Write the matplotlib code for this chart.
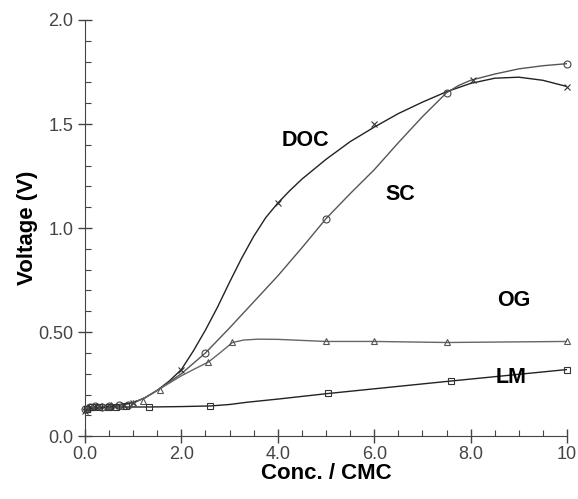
import matplotlib
matplotlib.use("Agg")
import matplotlib.pyplot as plt
import numpy as np

plt.rcParams['font.family'] = ['Liberation Sans', 'DejaVu Sans']

# measured points (markers)
doc_x = [0.0, 0.1, 0.2, 0.3, 0.45, 0.6, 0.8, 1.0, 2.0, 4.0, 6.0, 8.05, 10.0]
doc_y = [0.12, 0.14, 0.14, 0.145, 0.14, 0.145, 0.15, 0.16, 0.32, 1.12, 1.50, 1.71, 1.68]
sc_x = [0.0, 0.1, 0.2, 0.35, 0.5, 0.7, 0.9, 2.5, 5.0, 7.5, 10.0]
sc_y = [0.13, 0.14, 0.145, 0.14, 0.145, 0.15, 0.15, 0.40, 1.045, 1.65, 1.79]
og_x = [0.05, 0.15, 0.25, 0.4, 0.55, 0.75, 1.0, 1.2, 1.55, 2.56, 3.06, 5.0, 6.0, 7.5, 10.0]
og_y = [0.13, 0.14, 0.145, 0.14, 0.15, 0.145, 0.16, 0.17, 0.22, 0.356, 0.45, 0.455, 0.455, 0.45, 0.455]
lm_x = [0.05, 0.15, 0.3, 0.5, 0.65, 0.85, 1.33, 2.6, 5.05, 7.6, 10.0]
lm_y = [0.13, 0.14, 0.14, 0.14, 0.14, 0.145, 0.14, 0.145, 0.205, 0.265, 0.32]

# smooth curves
doc_cx = [0.0, 0.5, 1.0, 1.25, 1.5, 1.75, 2.0, 2.25, 2.5, 2.75, 3.0, 3.25, 3.5, 3.75,
          4.0, 4.25, 4.5, 5.0, 5.5, 6.0, 6.5, 7.0, 7.5, 8.0, 8.5, 9.0, 9.5, 10.0]
doc_cy = [0.12, 0.14, 0.16, 0.185, 0.22, 0.265, 0.32, 0.41, 0.51, 0.62, 0.74, 0.855, 0.96, 1.05,
          1.12, 1.18, 1.235, 1.33, 1.415, 1.485, 1.55, 1.605, 1.655, 1.695, 1.72, 1.725, 1.71, 1.68]
sc_cx = [0.0, 0.5, 1.0, 1.25, 1.5, 1.75, 2.0, 2.25, 2.5, 3.0, 3.5, 4.0, 4.5, 5.0, 5.5, 6.0,
         6.5, 7.0, 7.5, 7.75, 8.0, 8.5, 9.0, 9.5, 10.0]
sc_cy = [0.13, 0.145, 0.16, 0.185, 0.22, 0.26, 0.30, 0.35, 0.40, 0.52, 0.645, 0.77, 0.905, 1.045, 1.165, 1.28,
         1.41, 1.535, 1.65, 1.685, 1.71, 1.74, 1.765, 1.78, 1.79]
og_cx = [0.0, 0.5, 1.0, 1.25, 1.5, 1.75, 2.0, 2.25, 2.56, 2.8, 3.06, 3.3, 3.6, 4.0, 5.0, 6.0, 7.5, 10.0]
og_cy = [0.13, 0.145, 0.16, 0.185, 0.22, 0.255, 0.29, 0.32, 0.356, 0.40, 0.45, 0.462, 0.466, 0.465, 0.455, 0.455, 0.45, 0.455]
lm_cx = [0.0, 0.5, 1.33, 2.0, 2.6, 3.0, 3.37, 4.0, 5.05, 7.6, 10.0]
lm_cy = [0.13, 0.14, 0.14, 0.142, 0.145, 0.152, 0.163, 0.178, 0.205, 0.265, 0.32]

labels = ["DOC", "SC", "OG", "LM"]
label_x = [4.57, 6.55, 8.9, 8.84]
label_y = [1.42, 1.16, 0.65, 0.28]

fig = plt.figure(figsize=(5.78, 4.99), dpi=100)
ax = fig.add_axes([0.147, 0.126, 0.834, 0.834])

ax.plot(doc_cx, doc_cy, color='#222222', lw=1.0)
ax.plot(sc_cx, sc_cy, color='#555555', lw=1.0)
ax.plot(og_cx, og_cy, color='#666666', lw=1.0)
ax.plot(lm_cx, lm_cy, color='#222222', lw=1.0)

mk = dict(ls='none', ms=5, mfc='none', mew=0.8, clip_on=False)
ax.plot(doc_x, doc_y, marker='x', color='#333333', **mk)
ax.plot(sc_x, sc_y, marker='o', color='#444444', **mk)
ax.plot(og_x, og_y, marker='^', color='#555555', **mk)
ax.plot(lm_x, lm_y, marker='s', color='#333333', **mk)

for t, x, y in zip(labels, label_x, label_y):
    ax.text(x, y, t, fontsize=15.5, fontweight='bold', ha='center', va='center')

ax.set_xlim(0, 10)
ax.set_ylim(0, 2.0)
ax.set_xticks([0, 2, 4, 6, 8, 10])
ax.set_xticklabels(["0.0", "2.0", "4.0", "6.0", "8.0", "10"])
ax.set_yticks([0, 0.5, 1.0, 1.5, 2.0])
ax.set_yticklabels(["0.0", "0.50", "1.0", "1.5", "2.0"])
ax.set_xticks(np.arange(0, 10.01, 0.5), minor=True)
ax.set_yticks(np.arange(0, 2.01, 0.1), minor=True)
ax.tick_params(which='major', direction='inout', length=10, width=1, labelsize=13, labelcolor='#444444', colors='#444444')
ax.tick_params(which='minor', direction='in', length=4, width=0.8, colors='#444444')
ax.tick_params(axis='x', which='major', pad=2)

for s in ['top', 'right']:
    ax.spines[s].set_visible(False)
for s in ['left', 'bottom']:
    ax.spines[s].set_color('#444444')

ax.set_xlabel("Conc. / CMC", fontsize=16, fontweight='bold', labelpad=0)
ax.set_ylabel("Voltage (V)", fontsize=16, fontweight='bold', labelpad=0)

fig.savefig("out.png", dpi=100)
